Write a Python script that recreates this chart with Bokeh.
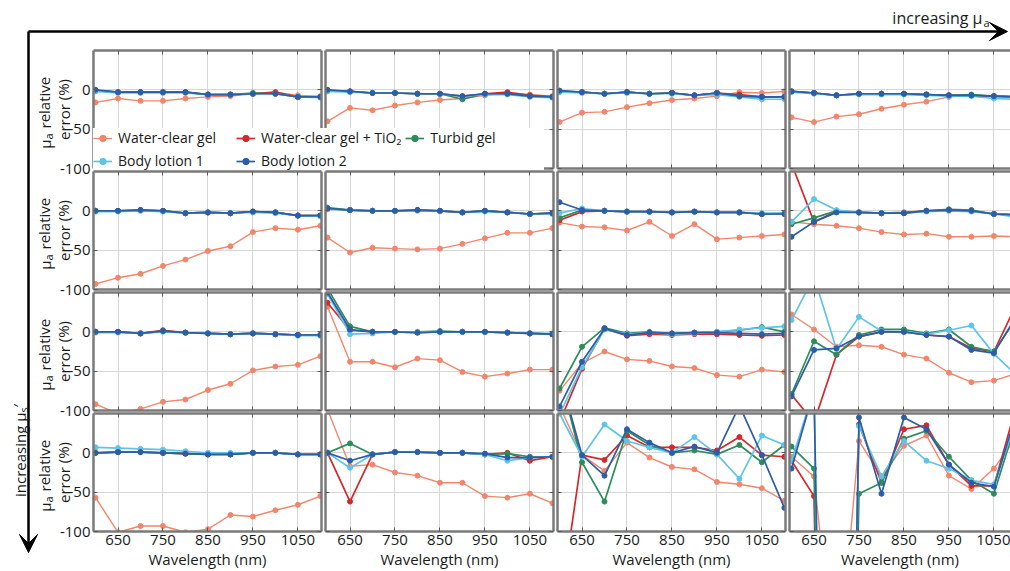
from bokeh.plotting import figure
from bokeh.layouts import column, row
from bokeh.models import (Range1d, FixedTicker, LinearAxis, Grid, Spacer, Arrow,
                          VeeHead, Legend, LegendItem, Label)
from bokeh.embed import file_html
from bokeh.resources import INLINE

# ---------------- data ----------------
wavelength = [600, 650, 700, 750, 800, 850, 900, 950, 1000, 1050, 1100]
x_ticks = [650, 750, 850, 950, 1050]
x_tick_labels = {650: "650", 750: "750", 850: "850", 950: "950", 1050: "1050"}
y_ticks = [-100, -50, 0]
y_tick_labels = {-100: "-100", -50: "-50", 0: "0"}

# each series: 4 rows (increasing mu_s') x 4 columns (increasing mu_a)
water_clear = [
    [[-16, -11, -14, -14, -11, -9, -8, -5, -3, -7, -8],
     [-40, -23, -26, -20, -16, -13, -11, -7, -4, -6, -8],
     [-41, -29, -28, -22, -17, -13, -11, -8, -3, -4, -2],
     [-35, -41, -34, -31, -24, -19, -15, -9, -7, -9, -9]],
    [[-93, -85, -80, -70, -62, -51, -45, -27, -22, -24, -19],
     [-34, -53, -47, -48, -49, -48, -42, -35, -28, -28, -22],
     [-15, -20, -21, -25, -14, -32, -17, -36, -34, -32, -30],
     [-14, -17, -19, -22, -27, -30, -29, -33, -33, -32, -33]],
    [[-92, -104, -98, -89, -86, -74, -66, -49, -44, -42, -31],
     [32, -38, -38, -45, -34, -36, -51, -57, -53, -48, -48],
     [-75, -40, -25, -35, -37, -44, -46, -55, -57, -48, -51],
     [22, 3, -19, -17, -19, -29, -34, -52, -64, -62, -53]],
    [[-57, -101, -93, -93, -101, -97, -79, -81, -73, -66, -55],
     [55, -17, -15, -25, -29, -38, -38, -55, -57, -52, -64],
     [60, -3, -23, 13, -6, -18, -21, -37, -40, -45, -61],
     [-5, -30, -300, 15, -30, 9, 22, -29, -46, -20, 20]],
]
water_clear_tio2 = [
    [[-1, -3, -3, -3, -3, -6, -6, -5, -3, -9, -9],
     [-1, -2, -4, -4, -5, -5, -8, -5, -3, -7, -9],
     [-2, -3, -5, -3, -5, -4, -7, -4, -6, -9, -9],
     [-2, -4, -7, -5, -5, -5, -6, -7, -7, -8, -9]],
    [[0, 0, 1, 0, -3, -2, -3, -1, -2, -6, -6],
     [3, 1, 0, 0, 1, 0, -2, 0, -2, -4, -3],
     [-12, -1, 0, -1, -1, -2, -1, -2, -2, -4, -4],
     [60, -14, -1, -2, -3, -2, 0, 1, 0, -4, -5]],
    [[0, 0, -2, 2, -1, -2, -3, -2, -3, -4, -4],
     [37, 2, 0, 0, -1, 0, 0, 0, -1, -2, -3],
     [-115, -47, 4, -5, -3, -4, -3, -3, -4, -5, -4],
     [-80, -115, -29, -6, 0, 0, -4, -6, -21, -25, 35]],
    [[0, 1, 1, 0, -1, -2, -2, 0, 0, -2, -2],
     [0, -62, -2, 1, 1, 0, 0, -2, 0, -10, -5],
     [-200, -3, -9, 22, 7, 7, 7, 3, 20, -3, -5],
     [-10, -55, -1500, 36, -38, 30, 35, -15, -42, -42, 60]],
]
turbid_gel = [
    [[-1, -3, -3, -3, -3, -6, -6, -4, -5, -9, -9],
     [-1, -2, -4, -4, -5, -5, -12, -5, -5, -8, -9],
     [-2, -3, -5, -3, -5, -4, -7, -4, -8, -9, -9],
     [-2, -4, -7, -5, -5, -5, -6, -7, -6, -8, -9]],
    [[0, 0, 1, 0, -3, -2, -3, -1, -2, -6, -6],
     [4, 1, 0, 0, 1, 0, -2, 0, -2, -4, -3],
     [-9, 1, 0, -1, -1, -2, -1, -2, -2, -4, -3],
     [-17, -9, 0, -2, -3, -3, 0, 2, 1, -4, -5]],
    [[0, 0, -2, 1, -1, -2, -3, -2, -3, -4, -4],
     [55, 7, 0, 0, 0, 1, 0, 0, -1, -2, -3],
     [-72, -19, 5, -2, 0, -2, -1, 0, 2, 6, 0],
     [-79, -12, -29, -4, 3, 3, -2, 3, -19, -25, 17]],
    [[0, 1, 1, 0, -1, -2, -2, 0, 0, -2, -2],
     [0, 12, -2, 1, 1, 0, 0, -2, -1, -5, -5],
     [100, -12, -62, 28, 10, 0, 3, -2, 10, -12, 10],
     [8, -20, -1500, -52, -38, 18, 28, -5, -35, -52, 40]],
]
body_lotion_1 = [
    [[-2, -4, -4, -4, -4, -6, -6, -5, -5, -9, -10],
     [-2, -3, -4, -4, -5, -5, -8, -6, -6, -9, -10],
     [-3, -4, -5, -4, -5, -5, -7, -6, -9, -12, -12],
     [-3, -5, -7, -6, -6, -6, -7, -8, -8, -11, -12]],
    [[-1, -1, 0, -1, -3, -2, -3, -2, -3, -6, -7],
     [2, 1, 0, 0, 0, 0, -2, -1, -2, -4, -4],
     [-3, 3, 0, -1, -1, -2, -1, -2, -2, -3, -3],
     [-14, 15, 1, -2, -3, -3, -1, 0, -1, -4, -8]],
    [[-1, -1, -2, 0, -1, -2, -3, -2, -3, -5, -5],
     [48, -3, -2, 0, 0, 0, 0, 0, -1, -2, -2],
     [-105, -45, 3, -3, -1, -3, -2, 0, 3, 5, 7],
     [15, 70, -22, 19, 1, 0, -3, 2, 8, -28, -55]],
    [[7, 6, 5, 4, 2, 0, 0, 0, 0, -2, -2],
     [0, -19, -2, 1, 1, 0, 0, -2, -10, -6, -5],
     [50, -5, 36, 15, 7, 0, 20, -2, -33, 22, 10],
     [-10, 80, -1500, 34, -30, 15, -10, -20, -35, -40, 40]],
]
body_lotion_2 = [
    [[0, -3, -3, -3, -3, -6, -6, -5, -5, -9, -9],
     [0, -2, -4, -4, -5, -5, -8, -5, -5, -8, -9],
     [-1, -3, -5, -3, -5, -4, -7, -4, -8, -9, -9],
     [-2, -4, -7, -5, -5, -5, -6, -7, -7, -8, -9]],
    [[0, 0, 1, 0, -3, -2, -3, -1, -2, -6, -6],
     [3, 1, 0, 0, 1, 0, -2, 0, -2, -4, -3],
     [11, 1, 0, -1, -1, -2, -1, -2, -2, -4, -4],
     [-33, -14, -2, -2, -3, -3, 0, 1, 0, -4, -5]],
    [[0, 0, -2, 1, -1, -2, -3, -2, -3, -4, -4],
     [50, 3, 0, 0, -1, 0, 0, 0, -1, -2, -3],
     [-95, -38, 4, -4, -1, -2, -1, -1, -2, -3, -2],
     [-82, -23, -21, -6, 0, 0, -4, -6, -23, -27, 20]],
    [[0, 1, 1, 0, -1, -2, -2, 0, 0, -2, -2],
     [0, -10, -2, 1, 1, 0, 0, -1, -6, -6, -5],
     [100, -3, -29, 30, 13, 0, 8, 0, 60, -3, -70],
     [-20, 80, -1500, 45, -52, 45, 30, -15, -38, -43, 50]],
]

series_names = ["Water-clear gel", "Water-clear gel + TiO\u2082", "Turbid gel",
                "Body lotion 1", "Body lotion 2"]
series_data = [water_clear, water_clear_tio2, turbid_gel, body_lotion_1, body_lotion_2]
series_colors = ["#F2866C", "#D4282C", "#2C8C5A", "#5EC4E8", "#2B5DA8"]
series_widths = [1.4, 1.7, 1.7, 1.7, 1.7]

# ---------------- style / geometry ----------------
FONT = "Open Sans"
BORDER = "#7a7a7a"
GRIDC = "#d6d6d6"
TXT = "#1a1a1a"
OVERLAP = 8

col_w = [323, 232, 232, 223]
col_bl = [93, 2, 2, 2]
col_br = [2, 2, 2, 0]
row_h = [121 + OVERLAP, 121 + OVERLAP, 121 + OVERLAP, 159]
row_bb = [2 + OVERLAP, 2 + OVERLAP, 2 + OVERLAP, 40]
x_start = 595.5
x_end = [1102.5, 1102.5, 1102.5, 1086.9]


def add_axis(p, side, ticks, labels=None, axis_label=None):
    ax = LinearAxis(ticker=FixedTicker(ticks=ticks),
                    axis_line_color=BORDER, axis_line_width=2.5,
                    major_tick_line_color="#5a5a5a", major_tick_line_width=1,
                    major_tick_in=4, major_tick_out=0,
                    minor_tick_line_color=None)
    if labels:
        ax.major_label_overrides = labels
        ax.major_label_text_font = FONT
        ax.major_label_text_font_size = "15px"
        ax.major_label_text_color = TXT
        ax.major_label_standoff = 3
    else:
        ax.major_label_text_color = None
        ax.major_label_standoff = 0
    if axis_label:
        ax.axis_label = axis_label
        ax.axis_label_text_font = FONT
        ax.axis_label_text_font_size = "15px"
        ax.axis_label_text_font_style = "normal"
        ax.axis_label_text_color = TXT
        ax.axis_label_standoff = 1
    p.add_layout(ax, side)


grid_rows = [Spacer(width=1010, height=49)]
for r in range(4):
    figs = []
    for c in range(4):
        p = figure(width=col_w[c], height=row_h[r],
                   x_range=Range1d(x_start, x_end[c]), y_range=Range1d(-100, 50),
                   x_axis_type=None, y_axis_type=None,
                   output_backend="svg", toolbar_location=None,
                   min_border_left=col_bl[c], min_border_right=col_br[c],
                   min_border_top=1, min_border_bottom=row_bb[r])
        p.outline_line_color = None
        p.background_fill_color = "white"
        p.border_fill_alpha = 0
        if r < 3:
            p.margin = (0, 0, -OVERLAP, 0)
        p.add_layout(Grid(dimension=0, ticker=FixedTicker(ticks=x_ticks),
                          grid_line_color=GRIDC, grid_line_width=1))
        p.add_layout(Grid(dimension=1, ticker=FixedTicker(ticks=y_ticks),
                          grid_line_color=GRIDC, grid_line_width=1))
        add_axis(p, "below", x_ticks,
                 x_tick_labels if r == 3 else None,
                 "Wavelength (nm)" if r == 3 else None)
        add_axis(p, "left", y_ticks, y_tick_labels if c == 0 else None)
        add_axis(p, "above", x_ticks)
        if c < 3:
            add_axis(p, "right", y_ticks)
        for data, color, lw in zip(series_data, series_colors, series_widths):
            vals = data[r][c]
            p.line(wavelength, vals, line_color=color, line_width=lw)
            p.scatter(wavelength, vals, marker="circle", size=5,
                      fill_color=color, line_color=color)
        figs.append(p)
    grid_rows.append(row(*figs))
grid = column(*grid_rows)

# ---------------- overlay: arrows, side labels, legend ----------------
ov = figure(width=1010, height=571, x_range=Range1d(0, 1010), y_range=Range1d(0, 571),
            x_axis_type=None, y_axis_type=None, output_backend="svg",
            toolbar_location=None, min_border=0)
ov.outline_line_color = None
ov.background_fill_alpha = 0
ov.border_fill_alpha = 0
ov.margin = (-571, 0, 0, 0)


def Y(py):
    return 571 - py


def lab(x, y, text, size="15px", align="center", angle=0.0):
    ov.add_layout(Label(x=x, y=y, text=text, angle=angle, text_align=align,
                        text_baseline="middle", text_font=FONT,
                        text_font_size=size, text_color=TXT))


head = dict(size=18, fill_color="black", line_color="black")
ov.add_layout(Arrow(x_start=28, y_start=Y(31), x_end=1007, y_end=Y(31),
                    line_color="black", line_width=2.5, end=VeeHead(**head)))
ov.add_layout(Arrow(x_start=28, y_start=Y(31), x_end=28, y_end=Y(552),
                    line_color="black", line_width=2.5, end=VeeHead(**head)))

# "increasing mu_a" (horizontal, subscript as a smaller label)
lab(982, Y(17), "increasing \u03bc", size="16px", align="right")
lab(983, Y(22), "a", size="11px", align="left")

# "increasing mu_s'" (rotated)
ROT = 1.5708
A = Y(450) + 38
lab(19, A, "increasing \u03bc", align="right", angle=ROT)
lab(23, A, "s", size="11px", align="left", angle=ROT)
lab(17, A + 5, "\u2032", align="left", angle=ROT)

# row labels "mu_a relative / error (%)"
for r in range(4):
    cy = 109 + 121 * r
    a0 = Y(cy) - 30
    lab(44, a0, "\u03bc", align="right", angle=ROT)
    lab(48, a0, "a", size="11px", align="left", angle=ROT)
    lab(44, a0 + 11, "relative", align="left", angle=ROT)
    lab(63, Y(cy), "error (%)", angle=ROT)

# legend samples (placed outside the visible area)
items = []
for name, color, lw in zip(series_names, series_colors, series_widths):
    lr = ov.line(x=[-50, -40], y=[-50, -50], line_color=color, line_width=lw)
    sr = ov.scatter(x=[-50], y=[-50], marker="circle", size=5,
                    fill_color=color, line_color=color)
    items.append(LegendItem(label=name, renderers=[lr, sr]))
legend = Legend(items=items, location=(93, Y(170)), orientation="horizontal", ncols=3,
                label_text_font=FONT, label_text_font_size="14px", label_text_color=TXT,
                glyph_width=19, glyph_height=16, label_height=16, label_width=114,
                label_standoff=6, spacing=4, padding=4, margin=0,
                border_line_color=None,
                background_fill_color="white", background_fill_alpha=1)
ov.add_layout(legend)

root = column(grid, ov)
open("out.html", "w").write(file_html(root, INLINE))
